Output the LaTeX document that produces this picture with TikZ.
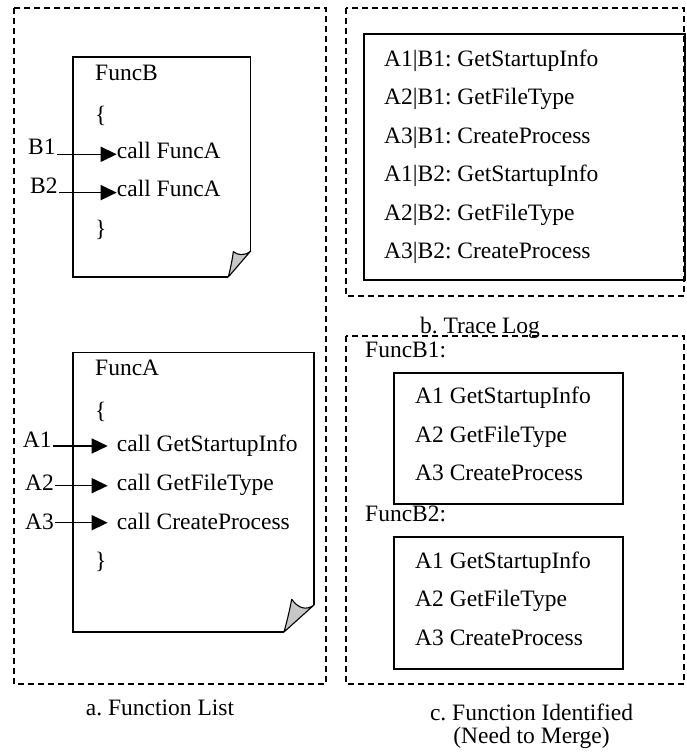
\documentclass[tikz,border=0pt]{standalone}
\usepackage{fontspec}
\setmainfont{Liberation Serif}
\usetikzlibrary{arrows.meta,calc}
\frenchspacing
\begin{document}
\begin{tikzpicture}[x=1pt,y=-1pt,
  txt/.style={inner sep=0pt, anchor=base west, font=\fontsize{23.5}{23}\selectfont},
  lbl/.style={inner sep=1pt, anchor=base west, font=\fontsize{23.5}{23}\selectfont},
  captxt/.style={inner sep=0pt, anchor=base, align=center, font=\fontsize{23.5}{23}\selectfont},
  panel/.style={draw, line width=1.4pt, dash pattern=on 6pt off 4pt},
  box/.style={draw, line width=1.7pt},
  doc/.style={draw, line width=1.4pt, line join=miter},
  fold/.style={draw, line width=1.1pt, fill=black!22, line join=round},
  arr/.style={line width=1.5pt, -{Triangle[length=16pt,width=15pt]}}
]
\useasboundingbox (0,0) rectangle (687,754);

% ---------- panels ----------
\draw[panel] (14,8) rectangle (326,684);
\draw[panel] (346,8) rectangle (684,296);
\draw[panel] (346,336) rectangle (684,684);

% ---------- FuncB document ----------
\draw[doc] (228,277) -- (73,277) -- (73,57) -- (250.7,57) -- (250.7,251);
\draw[fold] (250.7,251) .. controls (245,256) and (238,255.5) .. (233.3,251.7)
   .. controls (232,262) and (230,270) .. (228.3,277) -- cycle;

\node[txt] (fB) at (95,80.7) {FuncB};
\node[txt] (fBo) at (95,123) {\{};
\node[txt] (cB1) at (116.7,158.3) {call FuncA};
\node[txt] (cB2) at (116.7,196.7) {call FuncA};
\node[txt] (fBc) at (95,236) {\}};
\node[lbl] (B1) at (27,155) {B1};
\node[lbl] (B2) at (29,193.3) {B2};
\draw[arr] ($(B1.base east)+(0,-0.7)$) -- ($(B1.base east -| cB1.west)+(0,-0.7)$);
\draw[arr] ($(B2.base east)+(0,-0.7)$) -- ($(B2.base east -| cB2.west)+(0,-0.7)$);

% ---------- FuncA document ----------
\draw[doc] (284,632) -- (73,632) -- (73,352.7) -- (314,352.7) -- (314,605);
\draw[fold] (314,605) .. controls (306,611) and (298,608) .. (291.7,599.3)
   .. controls (289.5,611) and (287,621) .. (284,632) -- cycle;

\node[txt] (fA) at (95,375) {FuncA};
\node[txt] (fAo) at (95,418.5) {\{};
\node[txt] (cA1) at (116.7,451.7) {call GetStartupInfo};
\node[txt] (cA2) at (116.7,490.7) {call GetFileType};
\node[txt] (cA3) at (116.7,529.3) {call CreateProcess};
\node[txt] (fAc) at (95,568.5) {\}};
\node[lbl] (A1) at (21.7,447.3) {A1};
\node[lbl] (A2) at (24,490.7) {A2};
\node[lbl] (A3) at (24,529.3) {A3};
\draw[arr] ($(A1.base east)+(0,-1.3)$) -- ($(A1.base east -| cA1.west)+(-9,-1.3)$);
\draw[arr] ($(A2.base east)+(0,-5)$) -- ($(A2.base east -| cA2.west)+(-9,-5)$);
\draw[arr] ($(A3.base east)+(0,-6.6)$) -- ($(A3.base east -| cA3.west)+(-9,-6.6)$);

% ---------- Trace log ----------
\draw[box] (364,34) rectangle (685,280);
\node[txt] (t1) at (384,66.7) {A1|B1: GetStartupInfo};
\node[txt] (t2) at (384,105) {A2|B1: GetFileType};
\node[txt] (t3) at (384,143.3) {A3|B1: CreateProcess};
\node[txt] (t4) at (384,181.6) {A1|B2: GetStartupInfo};
\node[txt] (t5) at (384,220) {A2|B2: GetFileType};
\node[txt] (t6) at (384,258.3) {A3|B2: CreateProcess};

% ---------- Function identified ----------
\node[txt] (fB1) at (365,357.3) {FuncB1:};
\draw[box] (394,372.7) rectangle (623,504);
\node[txt] (p1) at (415,403.3) {A1 GetStartupInfo};
\node[txt] (p2) at (415,442.7) {A2 GetFileType};
\node[txt] (p3) at (415,480.7) {A3 CreateProcess};

\node[txt] (fB2) at (365,521.7) {FuncB2:};
\draw[box] (394,536.7) rectangle (623,669.3);
\node[txt] (q1) at (415,568.3) {A1 GetStartupInfo};
\node[txt] (q2) at (415,606.7) {A2 GetFileType};
\node[txt] (q3) at (415,645) {A3 CreateProcess};

% ---------- captions ----------
\node[captxt] (capA) at (160,715) {a. Function List};
\node[captxt] (capB) at (480,333.3) {b. Trace Log};
\node[captxt] (capC) at (531.5,743) {c. Function Identified\\(Need to Merge)};
\end{tikzpicture}
\end{document}
